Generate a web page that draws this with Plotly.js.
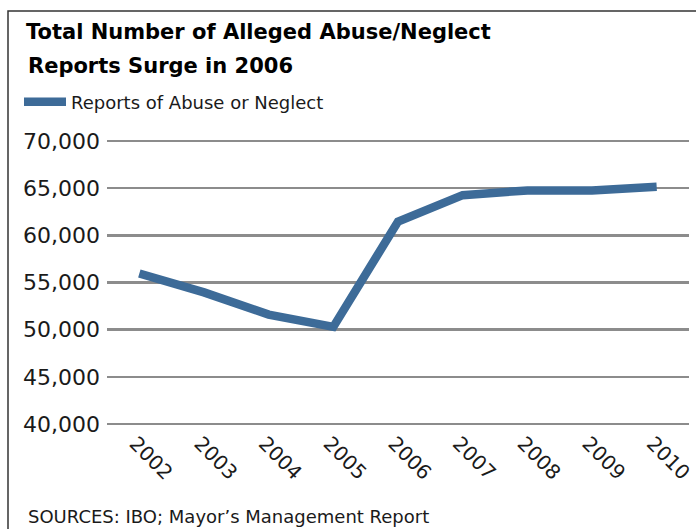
<!DOCTYPE html>
<html>
<head>
<meta charset="utf-8">
<script src="https://cdn.plot.ly/plotly-3.0.1.min.js"></script>
<style>html,body{margin:0;padding:0;background:#fff;}#chart{width:696px;height:529px;}</style>
</head>
<body>
<div id="chart"></div>
<script>
const years = ["2002","2003","2004","2005","2006","2007","2008","2009","2010"];
const reports = [55950, 53950, 51600, 50300, 61450, 64250, 64750, 64750, 65150];
const yTicks = [40000, 45000, 50000, 55000, 60000, 65000, 70000];
const yTickText = ["40,000","45,000","50,000","55,000","60,000","65,000","70,000"];
const seriesName = "Reports of Abuse or Neglect";
const titleLine1 = "Total Number of Alleged Abuse/Neglect";
const titleLine2 = "Reports Surge in 2006";
const sourceText = "SOURCES: IBO; Mayor\u2019s Management Report";

const font = "DejaVu Sans, sans-serif";
const L = 107, T = 138, W = 582, H = 289, B = 529 - T - H;
const px2x = p => (p - L) / W;
const py2y = p => (T + H - p) / H;

const trace = {
  x: years, y: reports, type: "scatter", mode: "lines", name: seriesName,
  line: {color: "#3d6b98", width: 8.5},
  showlegend: true
};
const layout = {
  width: 696, height: 529,
  margin: {l: L, r: 696 - L - W, t: T, b: B},
  paper_bgcolor: "#fff", plot_bgcolor: "#fff",
  font: {family: font, color: "#1a1a1a"},
  title: {text: "<b>" + titleLine1 + "</b>", font: {family: font, size: 21, color: "#000"},
    xref: "container", x: 26 / 696, xanchor: "left", yref: "container", y: 1 - 32/529, yanchor: "middle"},
  showlegend: true,
  legend: {orientation: "h", x: px2x(19), xanchor: "left", y: py2y(102), yanchor: "middle",
    itemwidth: 42,
    font: {family: font, size: 18, color: "#1a1a1a"}, bgcolor: "rgba(0,0,0,0)"},
  xaxis: {type: "category", range: [-0.5, 8.5], showgrid: false, zeroline: false, showline: false,
    tickangle: 45, ticklabelshift: -4, tickfont: {family: font, size: 20, color: "#1a1a1a"}, ticks: "", fixedrange: true},
  yaxis: {range: [39700, 70300], tickvals: yTicks, ticktext: yTickText, showgrid: true,
    gridcolor: "#8c8c8c", gridwidth: 2.5, zeroline: false, showline: false, ticks: "",
    ticklabelstandoff: 6, tickfont: {family: font, size: 22, color: "#1a1a1a"}, fixedrange: true},
  annotations: [
    {text: "<b>" + titleLine2 + "</b>", xref: "paper", yref: "paper", x: px2x(26), xanchor: "left",
     y: py2y(66), yanchor: "middle", showarrow: false, font: {family: font, size: 21, color: "#000"}},
    {text: sourceText, xref: "paper", yref: "paper", x: px2x(26), xanchor: "left",
     y: py2y(516), yanchor: "middle", showarrow: false, font: {family: font, size: 18, color: "#1a1a1a"}}
  ],
  shapes: [
    {type: "rect", xref: "paper", yref: "paper", x0: px2x(8), x1: px2x(705),
     y0: py2y(545), y1: py2y(11), line: {color: "#333", width: 1.5}, fillcolor: "rgba(0,0,0,0)", layer: "below"}
  ]
};
Plotly.newPlot("chart", [trace], layout, {displayModeBar: false, staticPlot: true});
</script>
</body>
</html>
